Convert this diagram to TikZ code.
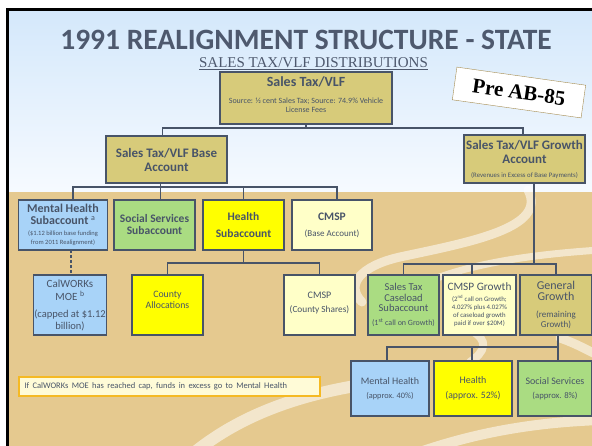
\documentclass[tikz,border=0pt]{standalone}
\usepackage{fontspec}
\setmainfont{Carlito}
\newfontfamily\timesfont{Liberation Serif}
\usetikzlibrary{calc}
\definecolor{slate}{RGB}{72,84,104}
\definecolor{titlec}{RGB}{78,89,110}
\definecolor{khaki}{RGB}{215,203,122}
\definecolor{skyblue}{RGB}{168,211,248}
\definecolor{leafgreen}{RGB}{170,220,130}
\definecolor{lemon}{RGB}{255,255,0}
\definecolor{cream}{RGB}{255,255,200}
\definecolor{sand}{RGB}{229,201,143}
\definecolor{skytop}{RGB}{212,232,251}
\definecolor{skybot}{RGB}{246,250,255}
\definecolor{notefill}{RGB}{255,251,215}
\definecolor{noteedge}{RGB}{245,185,35}
\definecolor{preedge}{RGB}{165,140,80}
\newcommand{\fsz}[2]{\fontsize{#1}{#2}\selectfont}
\tikzstyle{acct} = [draw=slate, line width=1.4pt, text=slate, align=center, inner sep=1pt, outer sep=0pt]
\tikzstyle{link} = [draw=slate, line width=1.4pt]
\tikzstyle{swoosh} = [draw=white, opacity=0.55, line cap=round]

\begin{document}
\begin{tikzpicture}[x=1pt, y=-1pt]
\useasboundingbox (0,0) rectangle (592,446);
\clip (0,0) rectangle (592,446);
% slide background
\fill [top color=skytop, bottom color=skybot] (7,10) rectangle (600,192);
\fill [sand] (7,192) rectangle (600,460);
\draw [swoosh, line width=9] (528,190) .. controls (548,228) and (470,242) .. (400,257) .. controls (360,266) and (345,285) .. (362,302);
\draw [swoosh, line width=7] (600,250) .. controls (540,254) and (470,262) .. (420,285);
\draw [swoosh, line width=8] (470,330) .. controls (490,340) and (485,352) .. (470,362);
\draw [swoosh, line width=9] (560,338) .. controls (580,345) and (590,352) .. (600,356);
\draw [swoosh, line width=12] (195,452) .. controls (250,408) and (320,388) .. (400,380);
\draw [swoosh, line width=10] (420,452) .. controls (490,428) and (550,422) .. (600,420);
\draw [black, line width=3] (7,460) -- (7,10) -- (600,10);

% title
\node [text=titlec, anchor=base] (Title) at (306,49.5) {\fsz{29.5}{31}\bfseries 1991 REALIGNMENT STRUCTURE - STATE};
\node [text=titlec, anchor=base, inner sep=1pt] (Sub) at (313.5,67.5) {\timesfont\fsz{15}{16}\underline{SALES TAX/VLF DISTRIBUTIONS}};
\node [draw=preedge, fill=white, rotate=-8, minimum width=130, minimum height=33, inner sep=0pt] (PreAB) at (519,92.5) {\timesfont\bfseries\fsz{21}{21}Pre AB-85};

% accounts
\node [acct, fill=khaki, minimum width=172, minimum height=52, font=\fsz{8}{9}] (STVLF) at (306,98) {{\fsz{14}{16}\bfseries Sales Tax/VLF}\\[8pt]Source: ½ cent Sales Tax; Source: 74.9\% Vehicle\\License Fees\\[-2pt]\rule{0pt}{6pt}};
\node [acct, fill=khaki, minimum width=121, minimum height=47, font=\fsz{13}{14}\bfseries] (Base) at (166.5,159.5) {Sales Tax/VLF Base\\Account};
\node [acct, fill=khaki, minimum width=121, minimum height=48, font=\fsz{13}{14}\bfseries] (Growth) at (524.5,159) {Sales Tax/VLF Growth\\Account\\{\mdseries\fsz{6.8}{8}(Revenues in Excess of Base Payments)}};

% subaccounts
\node [acct, fill=skyblue, minimum width=89, minimum height=50, font=\fsz{6.5}{9}] (MHS) at (63,225) {{\fsz{12}{12}\bfseries Mental Health}\\[3pt]{\fsz{12}{12}\bfseries Subaccount \textsuperscript{\mdseries a}}\\[2pt](\$1.12 billion base funding\\from 2011 Realignment)};
\node [acct, fill=leafgreen, minimum width=81, minimum height=50, font=\fsz{11.5}{12}\bfseries] (SSS) at (154.5,225) {Social Services\\Subaccount};
\node [acct, fill=lemon, minimum width=81, minimum height=50, font=\fsz{11.5}{17}\bfseries] (HS) at (243.5,225) {Health\\Subaccount};
\node [acct, fill=cream, minimum width=80, minimum height=50, font=\fsz{9}{16}] (CMSPb) at (332,225) {{\fsz{11.5}{12}\bfseries CMSP}\\(Base Account)};

% county level
\node [acct, fill=skyblue, minimum width=72, minimum height=60, font=\fsz{10.5}{12}] (CalW) at (70,305) {{\fsz{11}{12}CalWORKs}\\[1pt]{\fsz{11}{12}MOE \textsuperscript{b}}\\[5pt](capped at \$1.12\\billion)};
\node [acct, fill=lemon, minimum width=71, minimum height=60, font=\fsz{9.8}{10.5}] (County) at (167.5,305) {County\\Allocations\\[0pt]\rule{0pt}{2pt}};
\node [acct, fill=cream, minimum width=71, minimum height=60, font=\fsz{9.3}{14}] (CMSPc) at (319.5,305) {{\fsz{10}{12}CMSP}\\(County Shares)\\[-8pt]\rule{0pt}{2pt}};
\node [acct, fill=leafgreen, minimum width=71, minimum height=60, font=\fsz{10.5}{10.5}] (Caseload) at (403.5,305) {Sales Tax\\Caseload\\Subaccount\\[3.5pt]{\fsz{8}{9}(1\textsuperscript{st} call on Growth)}};
\node [acct, fill=cream, minimum width=73, minimum height=60, font=\fsz{6.8}{8}] (CMSPg) at (479.5,305) {{\fsz{11.3}{12}CMSP Growth}\\[3pt](2\textsuperscript{nd} call on Growth;\\4.027\% plus 4.027\%\\of caseload growth\\paid if over \$20M)};
\node [acct, fill=khaki, minimum width=72, minimum height=60, font=\fsz{9}{9.5}] (General) at (556,305) {{\fsz{12}{12}General}\\[1.5pt]{\fsz{12}{12}Growth}\\[7.5pt](remaining\\Growth)};

% growth split
\node [acct, fill=skyblue, minimum width=78, minimum height=55, font=\fsz{8.3}{14}] (MHg) at (390,388.5) {{\fsz{10}{12}Mental Health}\\(approx. 40\%)};
\node [acct, fill=lemon, minimum width=78, minimum height=55, font=\fsz{9.7}{15}] (Hg) at (473,388.5) {{\fsz{10}{12}Health}\\(approx. 52\%)};
\node [acct, fill=leafgreen, minimum width=74, minimum height=55, font=\fsz{8.7}{14}] (SSg) at (555,388.5) {{\fsz{10}{12}Social Services}\\(approx. 8\%)};

% note
\node [draw=noteedge, line width=1.8pt, fill=notefill, text=slate, minimum width=301, minimum height=19, text width=290, align=left, inner sep=2pt] (Note) at (169.5,386.5) {\fsz{8.5}{10}If CalWORKs MOE has reached cap, funds in excess go to Mental Health};

% connectors
\coordinate (busTop) at (306,128);
\draw [link] (STVLF.south) -- (busTop) -| ([xshift=-4]Base.north);
\draw [link] (busTop) -| ([xshift=-1.5]Growth.north);

\coordinate (busBase) at (160.5,187);
\draw [link] ([xshift=-6]Base.south) -- ([xshift=6]SSS.north);
\draw [link] (busBase) -| ([xshift=10]MHS.north);
\draw [link] (busBase) -| (HS.north);
\draw [link] (busBase) -| ([xshift=5]CMSPb.north);
\draw [link, dash pattern=on 3pt off 2pt] ([xshift=8]MHS.south) -- ([xshift=1]CalW.north);

\coordinate (busHealth) at (243.5,263);
\draw [link] (HS.south) -- (busHealth) -| (County.north);
\draw [link] (busHealth) -| (CMSPc.north);

\coordinate (busGrowth) at (534,264);
\draw [link] ([xshift=9.5]Growth.south) -- (busGrowth) -| (Caseload.north);
\draw [link] (busGrowth) -| ([xshift=-7.5]CMSPg.north);
\draw [link] (busGrowth) -| (General.north);

\coordinate (busGen) at (558,347);
\draw [link] ([xshift=2]General.south) -- (busGen) -| ([xshift=-3]MHg.north);
\draw [link] (busGen) -| ([xshift=-1]Hg.north);
\draw [link] (busGen) -- ([xshift=3]SSg.north);
\end{tikzpicture}
\end{document}
